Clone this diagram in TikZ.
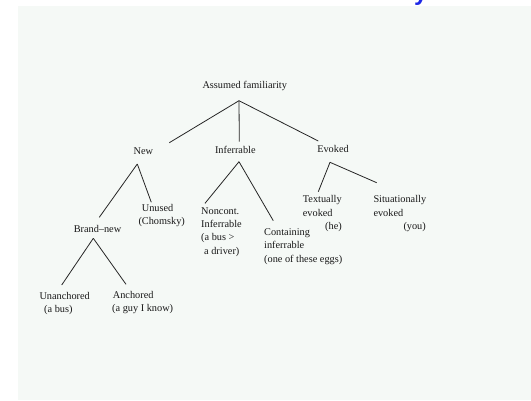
\documentclass[tikz,border=0pt]{standalone}
\usepackage{fontspec}
\setmainfont{Liberation Serif}
\newfontfamily\titlefont{Liberation Sans}
\definecolor{pale}{RGB}{245,249,246}
\definecolor{titleblue}{RGB}{30,40,230}
\tikzset{
  lbl/.style={inner sep=0pt, font=\fontsize{10.3}{13.3}\selectfont, text=black!90},
  one/.style={lbl, anchor=base},
  multi/.style={lbl, anchor=north west, align=left},
  edge/.style={draw=black!85, line width=0.8pt}
}
\begin{document}
\begin{tikzpicture}[x=1pt,y=-1pt]
\useasboundingbox (0,0) rectangle (531,400);
\clip (0,0) rectangle (531,400);
\fill[white] (0,0) rectangle (531,400);
\fill[pale] (18,6) rectangle (531,400);
\node[inner sep=0pt, anchor=base west, font=\titlefont\bfseries\fontsize{24}{28}\selectfont, text=titleblue] (title) at (414,0) {y};

\node[one] (root) at (244.7,88.5) {Assumed familiarity};
\node[one] (new) at (143.3,154.5) {New};
\node[one] (inf) at (235.3,153.5) {Inferrable};
\node[one] (evo) at (333,152.5) {Evoked};
\node[multi] (unused) at (138.3,204.2) {\hspace*{3.4pt}Unused\\(Chomsky)};
\node[one] (brand) at (97.5,232.8) {Brand--new};
\node[multi] (unanch) at (39.3,292.2) {Unanchored\\\hspace*{4.7pt}(a bus)};
\node[multi] (anch) at (112,290.8) {\hspace*{0.7pt}Anchored\\(a guy I know)};
\node[multi] (noncont) at (201,207.2) {Noncont.\\Inferrable\\(a bus >\\\hspace*{3pt}a driver)};
\node[multi] (contain) at (264,228.5) {Containing\\inferrable\\(one of these eggs)};
\node[multi] (textu) at (302.7,195.5) {Textually\\evoked\\\hspace*{22.3pt}(he)};
\node[multi] (situ) at (373.3,195.5) {Situationally\\evoked\\\hspace*{30pt}(you)};

% root fork
\draw[edge] ([shift={(-5.7,12.2)}]root.base) -- ([shift={(26,-11.8)}]new.base);
\draw[edge] ([shift={(-5.7,12.2)}]root.base) -- ([shift={(4,-11.8)}]inf.base);
\draw[edge] ([shift={(-5.7,12.2)}]root.base) -- ([shift={(-14.7,-11.5)}]evo.base);
% New
\draw[edge] ([shift={(-6,9.5)}]new.base) -- ([shift={(1.8,-15.5)}]brand.base);
\draw[edge] ([shift={(-6,9.5)}]new.base) -- ([shift={(13,-1.9)}]unused.north west);
% Brand-new
\draw[edge] ([shift={(-4.2,5.5)}]brand.base) -- ([shift={(22.4,-7.2)}]unanch.north west);
\draw[edge] ([shift={(-4.2,5.5)}]brand.base) -- ([shift={(14,-6.5)}]anch.north west);
% Inferrable
\draw[edge] ([shift={(3.7,8.2)}]inf.base) -- ([shift={(4,-3.9)}]noncont.north west);
\draw[edge] ([shift={(3.7,8.2)}]inf.base) -- ([shift={(9.3,-7.8)}]contain.north west);
% Evoked
\draw[edge] ([shift={(-3,9.8)}]evo.base) -- ([shift={(15.6,-3.8)}]textu.north west);
\draw[edge] ([shift={(-3,9.8)}]evo.base) -- ([shift={(3.4,-12.8)}]situ.north west);
\end{tikzpicture}
\end{document}
